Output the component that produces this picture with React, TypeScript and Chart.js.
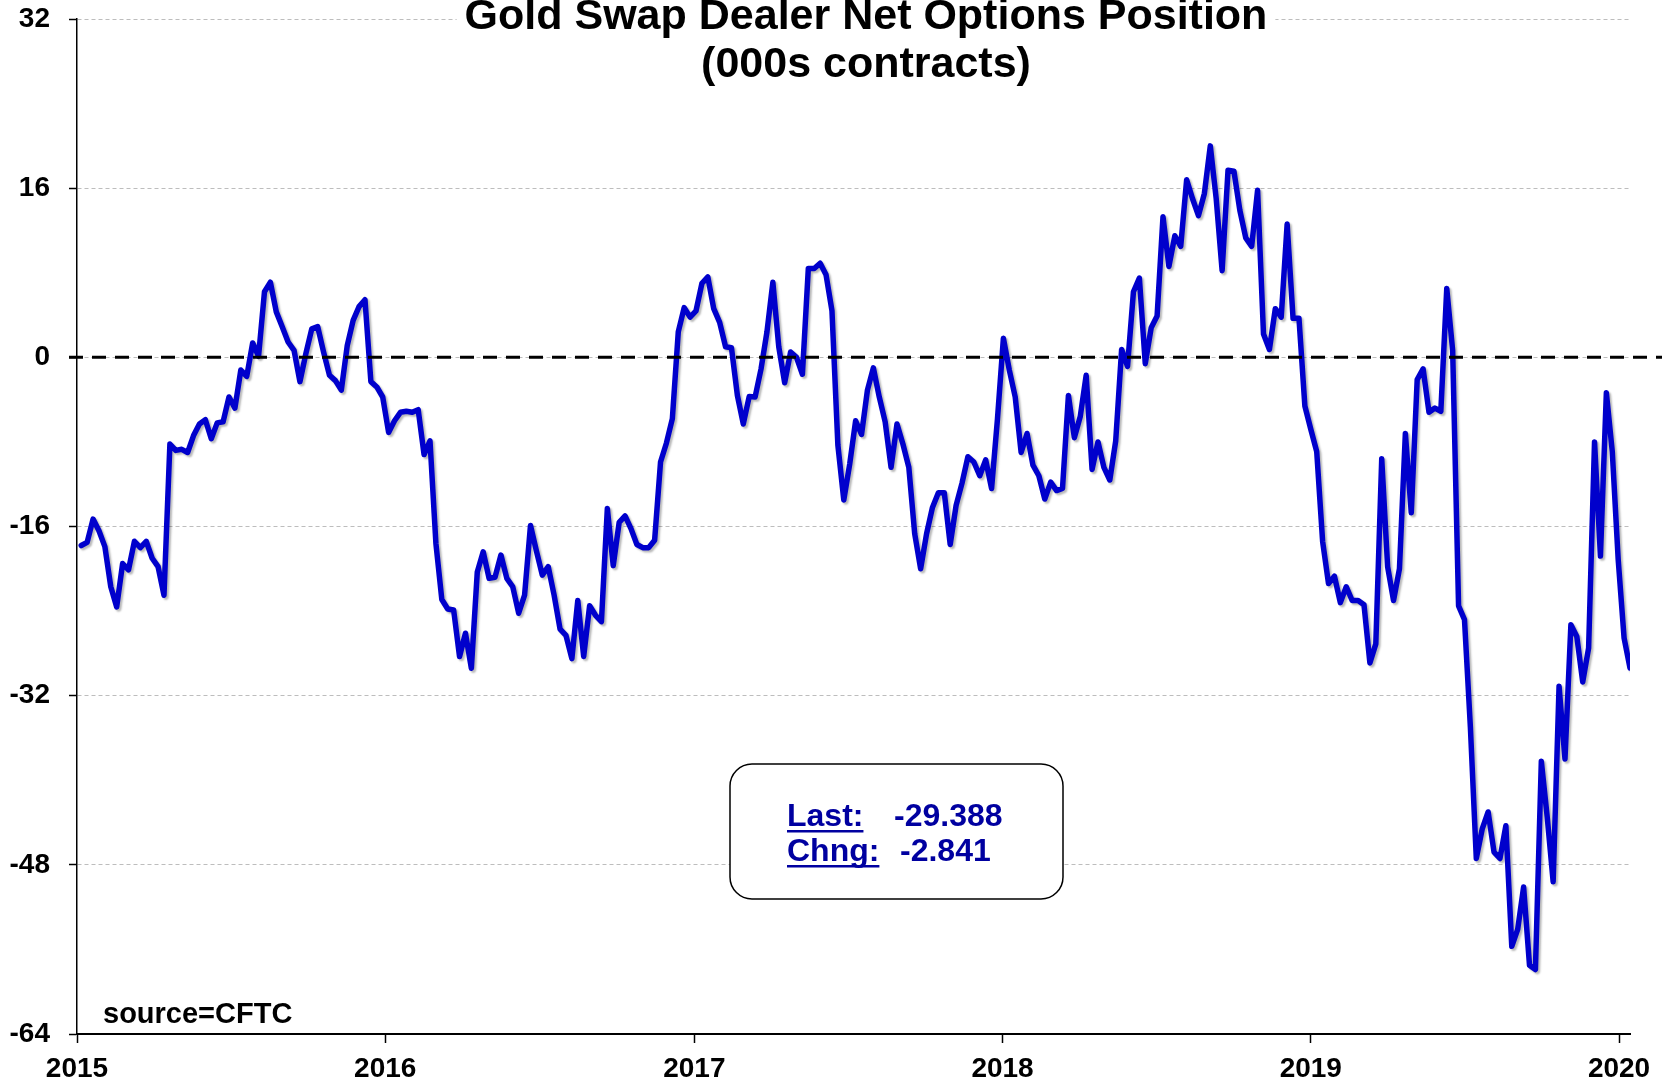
import React, { useEffect, useRef } from 'react';
import { Chart, registerables } from 'chart.js';

Chart.register(...registerables);

// ---- Data ----
const START_YEAR = 2015;
const START_MONTH = 0; // January
const START_DAY = 6; // first weekly observation: 2015-01-06 (weekly, Tuesdays)

const values: number[] = [
  // 2015
  -17.8, -17.5, -15.3, -16.4, -17.9, -21.7, -23.6, -19.5, -20.1, -17.4,
  -18.0, -17.4, -19.0, -19.8, -22.5, -8.2, -8.8, -8.7, -9.0, -7.4,
  -6.3, -5.9, -7.7, -6.2, -6.1, -3.75, -4.8, -1.2, -1.8, 1.36,
  0.1, 6.2, 7.1, 4.3, 2.9, 1.45, 0.66, -2.3, 0.35, 2.7,
  2.9, 0.5, -1.7, -2.2, -3.1, 1.1, 3.5, 4.8, 5.45, -2.3,
  -2.8, -3.75,
  // 2016
  -7.1, -6.0, -5.2, -5.1, -5.2, -4.95, -9.2, -7.9, -17.6, -22.9,
  -23.8, -23.9, -28.3, -26.1, -29.4, -20.3, -18.4, -20.9, -20.8, -18.7,
  -20.9, -21.7, -24.2, -22.5, -15.9, -18.3, -20.6, -19.8, -22.5, -25.7,
  -26.3, -28.5, -23.0, -28.3, -23.5, -24.4, -25.0, -14.3, -19.7, -15.6,
  -15.0, -16.2, -17.7, -18.0, -18.0, -17.3, -9.9, -8.1, -5.8, 2.4,
  4.7, 3.8,
  // 2017
  4.4, 7.0, 7.6, 4.6, 3.3, 1.0, 0.9, -3.6, -6.3, -3.7,
  -3.75, -1.1, 2.4, 7.1, 1.0, -2.4, 0.5, 0.0, -1.6, 8.4,
  8.4, 8.9, 7.8, 4.4, -8.3, -13.5, -10.1, -6.0, -7.3, -3.1,
  -1.0, -3.75, -6.1, -10.4, -6.3, -8.2, -10.4, -16.7, -20.0, -16.7,
  -14.2, -12.8, -12.8, -17.7, -14.0, -11.9, -9.4, -9.9, -11.2, -9.7,
  -12.4, -5.8,
  // 2018
  1.8, -1.2, -3.75, -9.0, -7.2, -10.2, -11.2, -13.4, -11.8, -12.6,
  -12.4, -3.6, -7.6, -5.6, -1.7, -10.6, -8.0, -10.4, -11.6, -7.9,
  0.74, -0.85, 6.2, 7.5, -0.6, 2.8, 3.9, 13.3, 8.6, 11.5,
  10.5, 16.8, 15.0, 13.4, 15.5, 20.0, 15.0, 8.2, 17.7, 17.6,
  13.9, 11.3, 10.5, 15.8, 2.2, 0.74, 4.6, 3.8, 12.6, 3.7,
  3.7, -4.6,
  // 2019
  -6.8, -8.9, -17.4, -21.4, -20.7, -23.2, -21.7, -23.0, -23.0, -23.4,
  -28.9, -27.1, -9.6, -19.8, -23.0, -20.0, -7.2, -14.7, -2.1, -1.1,
  -5.2, -4.8, -5.1, 6.5, 0.64, -23.5, -24.8, -35.0, -47.4, -44.6,
  -43.0, -46.8, -47.4, -44.3, -55.7, -54.1, -50.1, -57.5, -57.9, -38.2,
  -43.5, -49.6, -31.1, -38.0, -25.3, -26.4, -30.7, -27.5, -8.0, -18.8,
  -3.35, -8.9, -19.1,
  // 2020
  -26.547, -29.388,
];

const yearTicks = [2015, 2016, 2017, 2018, 2019, 2020];
const yTicks = [-64, -48, -32, -16, 0, 16, 32];
const titleLines = ['Gold Swap Dealer Net Options Position', '(000s contracts)'];
const sourceText = 'source=CFTC';
const lastLabel = 'Last:';
const lastValue = '-29.388';
const chngLabel = 'Chng:';
const chngValue = '-2.841';

const FONT = "'Liberation Sans', Arial, Helvetica, sans-serif";
const DAY = 86400000;
const W = 1671;
const H = 1084;

const startMs = Date.UTC(START_YEAR, START_MONTH, START_DAY);
const points = values.map((v, i) => ({ x: startMs + i * 7 * DAY, y: v }));

const shadowPlugin = {
  id: 'lineShadow',
  beforeDatasetsDraw(chart: any) {
    const ctx = chart.ctx;
    ctx.save();
    ctx.shadowColor = 'rgba(0,0,0,0.28)';
    ctx.shadowOffsetX = 2;
    ctx.shadowOffsetY = 2;
    ctx.shadowBlur = 2;
  },
  afterDatasetsDraw(chart: any) {
    chart.ctx.restore();
  },
};

const zeroLinePlugin = {
  id: 'zeroLine',
  afterDatasetsDraw(chart: any) {
    const ctx = chart.ctx;
    const y0 = chart.scales.y.getPixelForValue(0);
    ctx.save();
    ctx.strokeStyle = '#000';
    ctx.lineWidth = 3;
    ctx.setLineDash([14, 9]);
    ctx.beginPath();
    ctx.moveTo(chart.chartArea.left - 8, y0);
    ctx.lineTo(chart.chartArea.right + 32, y0);
    ctx.stroke();
    ctx.restore();
  },
};

const decorPlugin = {
  id: 'decor',
  afterDraw(chart: any) {
    const ctx = chart.ctx;
    ctx.save();
    // Title
    ctx.font = `bold 43px ${FONT}`;
    ctx.textAlign = 'center';
    ctx.textBaseline = 'alphabetic';
    const cx = 866;
    const w1 = ctx.measureText(titleLines[0]).width;
    ctx.fillStyle = '#fff';
    ctx.fillRect(cx - w1 / 2 - 8, 0, w1 + 16, 34);
    ctx.fillStyle = '#000';
    ctx.fillText(titleLines[0], cx, 29);
    ctx.fillText(titleLines[1], cx, 77);

    // Source
    ctx.textAlign = 'left';
    ctx.font = `bold 29px ${FONT}`;
    ctx.fillText(sourceText, 103, 1023);

    // Annotation box
    const bx = 730, by = 764, bw = 333, bh = 135, r = 22;
    ctx.beginPath();
    ctx.moveTo(bx + r, by);
    ctx.lineTo(bx + bw - r, by);
    ctx.arcTo(bx + bw, by, bx + bw, by + r, r);
    ctx.lineTo(bx + bw, by + bh - r);
    ctx.arcTo(bx + bw, by + bh, bx + bw - r, by + bh, r);
    ctx.lineTo(bx + r, by + bh);
    ctx.arcTo(bx, by + bh, bx, by + bh - r, r);
    ctx.lineTo(bx, by + r);
    ctx.arcTo(bx, by, bx + r, by, r);
    ctx.closePath();
    ctx.fillStyle = '#fff';
    ctx.fill();
    ctx.strokeStyle = '#000';
    ctx.lineWidth = 1.5;
    ctx.stroke();

    ctx.font = `bold 32px ${FONT}`;
    ctx.fillStyle = '#0000A0';
    const drawU = (t: string, x: number, y: number) => {
      ctx.fillText(t, x, y);
      const tw = ctx.measureText(t).width;
      ctx.fillRect(x, y + 4, tw, 2.5);
    };
    drawU(lastLabel, 787, 826);
    ctx.fillText(lastValue, 894, 826);
    drawU(chngLabel, 787, 861);
    ctx.fillText(chngValue, 900, 861);
    ctx.restore();
  },
};

export default function App() {
  const ref = useRef<HTMLCanvasElement | null>(null);
  useEffect(() => {
    if (!ref.current) return;
    const chart = new Chart(ref.current, {
      type: 'line',
      data: {
        datasets: [
          {
            data: points,
            borderColor: '#0000CC',
            borderWidth: 5.5,
            pointRadius: 0,
            tension: 0,
            fill: false,
            borderJoinStyle: 'round',
            borderCapStyle: 'round',
          } as any,
        ],
      },
      options: {
        animation: false,
        responsive: false,
        events: [],
        layout: { padding: { top: 19, right: 41, left: 0, bottom: 0 } },
        plugins: {
          legend: { display: false },
          title: { display: false },
          tooltip: { enabled: false },
        },
        scales: {
          x: {
            type: 'linear',
            min: Date.UTC(2015, 0, 1),
            max: Date.UTC(2020, 0, 14),
            afterBuildTicks: (s: any) => {
              s.ticks = yearTicks.map((y) => ({ value: Date.UTC(y, 0, 1) }));
            },
            afterFit: (s: any) => {
              s.height = 50;
              s.paddingLeft = 0;
              s.paddingRight = 0;
            },
            ticks: {
              callback: (v: any) => String(new Date(v).getUTCFullYear()),
              font: { family: FONT, size: 28, weight: 'bold' },
              color: '#000',
              padding: 9,
              maxRotation: 0,
              autoSkip: false,
            },
            grid: {
              drawOnChartArea: false,
              drawTicks: true,
              tickLength: 9,
              tickColor: '#000',
              tickWidth: 1.5,
            },
            border: { display: true, color: '#000', width: 2 },
          },
          y: {
            type: 'linear',
            min: -64,
            max: 32,
            afterBuildTicks: (s: any) => {
              s.ticks = yTicks.map((v) => ({ value: v }));
            },
            afterFit: (s: any) => {
              s.width = 77;
              s.paddingTop = 0;
              s.paddingBottom = 0;
            },
            ticks: {
              callback: (v: any) => String(v),
              font: { family: FONT, size: 28, weight: 'bold' },
              color: '#000',
              padding: 19,
            },
            grid: {
              color: '#BDBDBD',
              lineWidth: 1,
              drawTicks: true,
              tickLength: 8,
              tickColor: '#000',
              tickWidth: 1.5,
              tickBorderDash: [],
            } as any,
            border: { display: true, color: '#000', width: 1.5, dash: [4, 3] },
          },
        },
      } as any,
      plugins: [shadowPlugin, zeroLinePlugin, decorPlugin],
    });
    return () => chart.destroy();
  }, []);

  return (
    <div style={{ position: 'fixed', left: 0, top: 0, width: W, height: H, background: '#fff' }}>
      <canvas ref={ref} width={W} height={H} style={{ width: W, height: H, display: 'block' }} />
    </div>
  );
}
